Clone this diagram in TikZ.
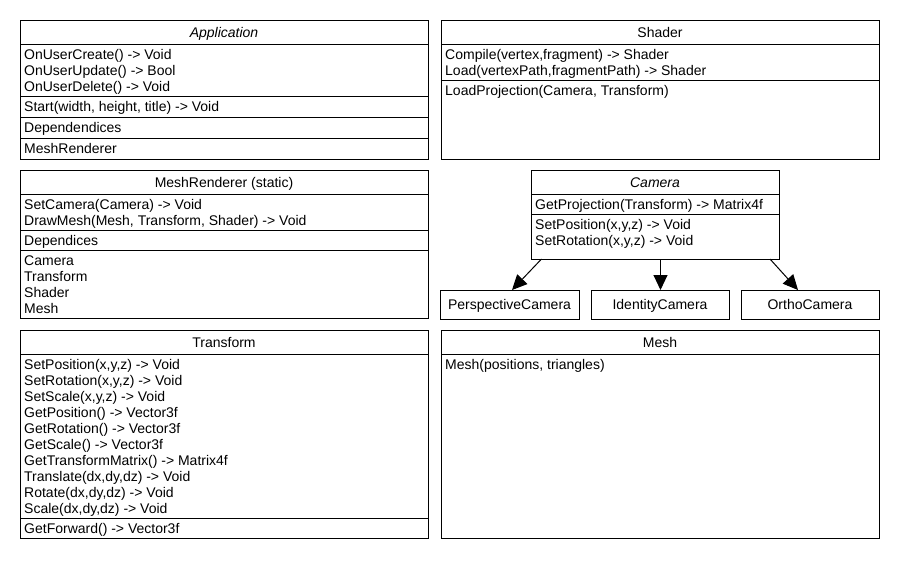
\documentclass[tikz,border=0pt]{standalone}
\usepackage{fontspec}
\setmainfont{Liberation Sans}
\usetikzlibrary{arrows.meta}
\tikzset{
  umlbox/.style={draw, line width=1pt, inner sep=0pt, outer sep=0pt, anchor=north west},
  mem/.style={anchor=base west, inner sep=0pt},
  ttl/.style={anchor=base, inner sep=0pt},
  sepline/.style={line width=1pt},
  inh/.style={-{Triangle[length=15pt,width=14pt]}, line width=1pt}
}
\begin{document}
\begin{tikzpicture}[x=1pt, y=-1pt, font=\fontsize{14}{16}\selectfont]
\useasboundingbox (0,0) rectangle (900,560);
\fill[white] (0,0) rectangle (900,560);

% ---------- Application ----------
\node[umlbox, minimum width=408pt, minimum height=139pt] (app) at (20,20) {};
\node[ttl] (appT) at (224,37.5) {\itshape Application};
\draw[sepline] ([yshift=-24pt]app.north west) -- ([yshift=-24pt]app.north east);
\node[mem] (app1) at (24,59.5) {OnUserCreate() -> Void};
\node[mem] (app2) at (24,75.5) {OnUserUpdate() -> Bool};
\node[mem] (app3) at (24,91.5) {OnUserDelete() -> Void};
\draw[sepline] ([yshift=-76pt]app.north west) -- ([yshift=-76pt]app.north east);
\node[mem] (app4) at (24,111.5) {Start(width, height, title) -> Void};
\draw[sepline] ([yshift=-97pt]app.north west) -- ([yshift=-97pt]app.north east);
\node[mem] (app5) at (24,132.5) {Dependendices};
\draw[sepline] ([yshift=-118pt]app.north west) -- ([yshift=-118pt]app.north east);
\node[mem] (app6) at (24,153.5) {MeshRenderer};

% ---------- Shader ----------
\node[umlbox, minimum width=438pt, minimum height=139pt] (sh) at (441,20) {};
\node[ttl] (shT) at (660,37.5) {Shader};
\draw[sepline] ([yshift=-24pt]sh.north west) -- ([yshift=-24pt]sh.north east);
\node[mem] (sh1) at (445,59.5) {Compile(vertex,fragment) -> Shader};
\node[mem] (sh2) at (445,75.5) {Load(vertexPath,fragmentPath) -> Shader};
\draw[sepline] ([yshift=-60pt]sh.north west) -- ([yshift=-60pt]sh.north east);
\node[mem] (sh3) at (445,95.5) {LoadProjection(Camera, Transform)};

% ---------- MeshRenderer ----------
\node[umlbox, minimum width=408pt, minimum height=148pt] (mr) at (20,170) {};
\node[ttl] (mrT) at (224,187.5) {MeshRenderer (static)};
\draw[sepline] ([yshift=-24pt]mr.north west) -- ([yshift=-24pt]mr.north east);
\node[mem] (mr1) at (24,209.5) {SetCamera(Camera) -> Void};
\node[mem] (mr2) at (24,225.5) {DrawMesh(Mesh, Transform, Shader) -> Void};
\draw[sepline] ([yshift=-60pt]mr.north west) -- ([yshift=-60pt]mr.north east);
\node[mem] (mr3) at (24,245.5) {Dependices};
\draw[sepline] ([yshift=-80pt]mr.north west) -- ([yshift=-80pt]mr.north east);
\node[mem] (mr4) at (24,265.5) {Camera};
\node[mem] (mr5) at (24,281.5) {Transform};
\node[mem] (mr6) at (24,297.5) {Shader};
\node[mem] (mr7) at (24,313.5) {Mesh};

% ---------- Camera ----------
\node[umlbox, minimum width=248pt, minimum height=89pt] (cam) at (531,170) {};
\node[ttl] (camT) at (655,187.5) {\itshape Camera};
\draw[sepline] ([yshift=-24pt]cam.north west) -- ([yshift=-24pt]cam.north east);
\node[mem] (cam1) at (535,209) {GetProjection(Transform) -> Matrix4f};
\draw[sepline] ([yshift=-44pt]cam.north west) -- ([yshift=-44pt]cam.north east);
\node[mem] (cam2) at (535,229.5) {SetPosition(x,y,z) -> Void};
\node[mem] (cam3) at (535,245.5) {SetRotation(x,y,z) -> Void};

\node[umlbox, minimum width=139pt, minimum height=29pt] (persp) at (440,290) {};
\node[ttl] (perspT) at (509.5,309.5) {PerspectiveCamera};
\node[umlbox, minimum width=138pt, minimum height=29pt] (ident) at (591,290) {};
\node[ttl] (identT) at (660,309.5) {IdentityCamera};
\node[umlbox, minimum width=138pt, minimum height=29pt] (ortho) at (741,290) {};
\node[ttl] (orthoT) at (810,309.5) {OrthoCamera};

\draw[inh] ([xshift=10.5pt]cam.south west) -- ([xshift=2.5pt]persp.north);
\draw[inh] ([xshift=129.5pt]cam.south west) -- ([xshift=0.5pt]ident.north);
\draw[inh] ([xshift=239pt]cam.south west) -- ([xshift=-12pt]ortho.north);

% ---------- Transform ----------
\node[umlbox, minimum width=408pt, minimum height=208pt] (tf) at (20,330) {};
\node[ttl] (tfT) at (224,347.5) {Transform};
\draw[sepline] ([yshift=-24pt]tf.north west) -- ([yshift=-24pt]tf.north east);
\foreach \t [count=\i from 0] in {{SetPosition(x,y,z) -> Void}, {SetRotation(x,y,z) -> Void}, {SetScale(x,y,z) -> Void}, {GetPosition() -> Vector3f}, {GetRotation() -> Vector3f}, {GetScale() -> Vector3f}, {GetTransformMatrix() -> Matrix4f}, {Translate(dx,dy,dz) -> Void}, {Rotate(dx,dy,dz) -> Void}, {Scale(dx,dy,dz) -> Void}}
  \node[mem] (tf\i) at (24,369.5+16*\i) {\t};
\draw[sepline] ([yshift=-188pt]tf.north west) -- ([yshift=-188pt]tf.north east);
\node[mem] (tf10) at (24,533.5) {GetForward() -> Vector3f};

% ---------- Mesh ----------
\node[umlbox, minimum width=438pt, minimum height=208pt] (mesh) at (441,330) {};
\node[ttl] (meshT) at (660,347.5) {Mesh};
\draw[sepline] ([yshift=-24pt]mesh.north west) -- ([yshift=-24pt]mesh.north east);
\node[mem] (mesh1) at (445,369.5) {Mesh(positions, triangles)};
\end{tikzpicture}
\end{document}
